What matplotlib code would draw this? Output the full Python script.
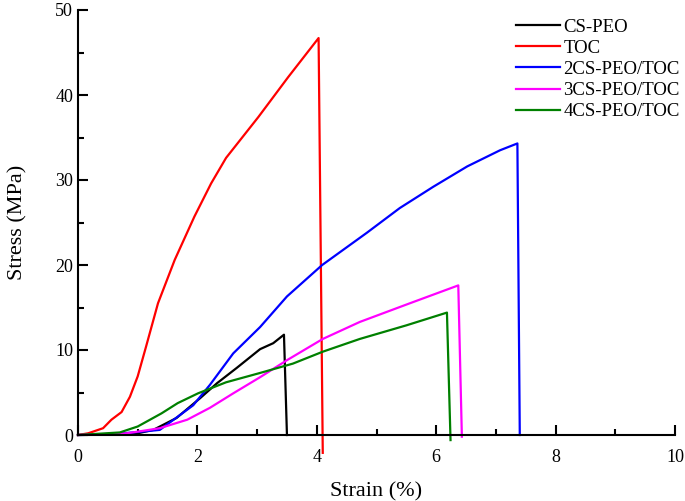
import matplotlib

matplotlib.use("Agg")
import matplotlib.pyplot as plt
from matplotlib.ticker import MultipleLocator

plt.rcParams["font.family"] = ["Liberation Serif", "DejaVu Serif"]

# stress-strain curves
cs_peo_x = [0, 0.5, 1.0, 1.26, 1.65, 2.04, 2.33, 2.66, 3.05, 3.27, 3.45, 3.5]
cs_peo_y = [0, 0.03, 0.2, 0.6, 2.0, 4.3, 6.1, 7.9, 10.1, 10.8, 11.8, 0]

toc_x = [0, 0.17, 0.42, 0.56, 0.73, 0.87, 1.0, 1.14, 1.34, 1.62, 1.95, 2.23, 2.48,
         3.02, 3.52, 4.03, 4.1]
toc_y = [0, 0.2, 0.8, 1.8, 2.7, 4.5, 6.9, 10.4, 15.5, 20.6, 25.7, 29.6, 32.6,
         37.4, 42.1, 46.7, -2.1]

cs2_x = [0, 0.5, 1.0, 1.37, 1.93, 2.21, 2.6, 3.05, 3.5, 4.09, 4.84, 5.39, 5.95, 6.52, 7.07, 7.36, 7.4]
cs2_y = [0, 0.05, 0.35, 0.6, 3.5, 5.9, 9.6, 12.7, 16.3, 20.0, 23.8, 26.7, 29.2, 31.6, 33.5, 34.3, 0]

cs3_x = [0, 0.82, 1.37, 1.83, 2.21, 2.6, 3.05, 3.5, 4.1, 4.72, 5.56, 6.37, 6.43]
cs3_y = [0, 0.2, 0.8, 1.8, 3.2, 4.9, 6.8, 8.8, 11.3, 13.3, 15.5, 17.6, -0.2]

cs4_x = [0, 0.7, 1.0, 1.4, 1.67, 2.01, 2.48, 3.05, 3.6, 4.1, 4.72, 5.5, 6.18, 6.24]
cs4_y = [0, 0.3, 1.0, 2.55, 3.75, 4.9, 6.2, 7.3, 8.4, 9.8, 11.3, 12.9, 14.4, -0.6]

series = [
    ("CS-PEO", cs_peo_x, cs_peo_y, "black"),
    ("TOC", toc_x, toc_y, "#ff0000"),
    ("2CS-PEO/TOC", cs2_x, cs2_y, "#0000ff"),
    ("3CS-PEO/TOC", cs3_x, cs3_y, "#ff00ff"),
    ("4CS-PEO/TOC", cs4_x, cs4_y, "#008000"),
]

fig = plt.figure(figsize=(6.85, 5.01), dpi=100)
ax = fig.add_axes([78 / 685, 1 - 435 / 501, 597 / 685, 425 / 501])

for label, x, y, color in series:
    ax.plot(x, y, color=color, linewidth=1.6, label=label, clip_on=False)

ax.set_xlim(0, 10)
ax.set_ylim(0, 50)
ax.xaxis.set_major_locator(MultipleLocator(2))
ax.xaxis.set_minor_locator(MultipleLocator(1))
ax.yaxis.set_major_locator(MultipleLocator(10))
ax.yaxis.set_minor_locator(MultipleLocator(5))
ax.tick_params(which="both", direction="in", width=1.5, labelsize=13)
ax.tick_params(which="major", length=7)
ax.tick_params(which="minor", length=4)
ax.tick_params(axis="x", pad=10)
for side in ("top", "right"):
    ax.spines[side].set_visible(False)
for side in ("left", "bottom"):
    ax.spines[side].set_linewidth(1.5)

ax.set_xlabel("Strain (%)", fontsize=16, labelpad=12)
ax.set_ylabel("Stress (MPa)", fontsize=16, labelpad=20)

ax.legend(
    loc="upper left",
    bbox_to_anchor=(507 / 685, 1 - 9 / 501),
    bbox_transform=fig.transFigure,
    frameon=False,
    borderpad=0,
    fontsize=13.5,
    handlelength=2.3,
    handletextpad=0.2,
    labelspacing=0.22,
)

fig.savefig("out.png", dpi=100)
plt.close(fig)
